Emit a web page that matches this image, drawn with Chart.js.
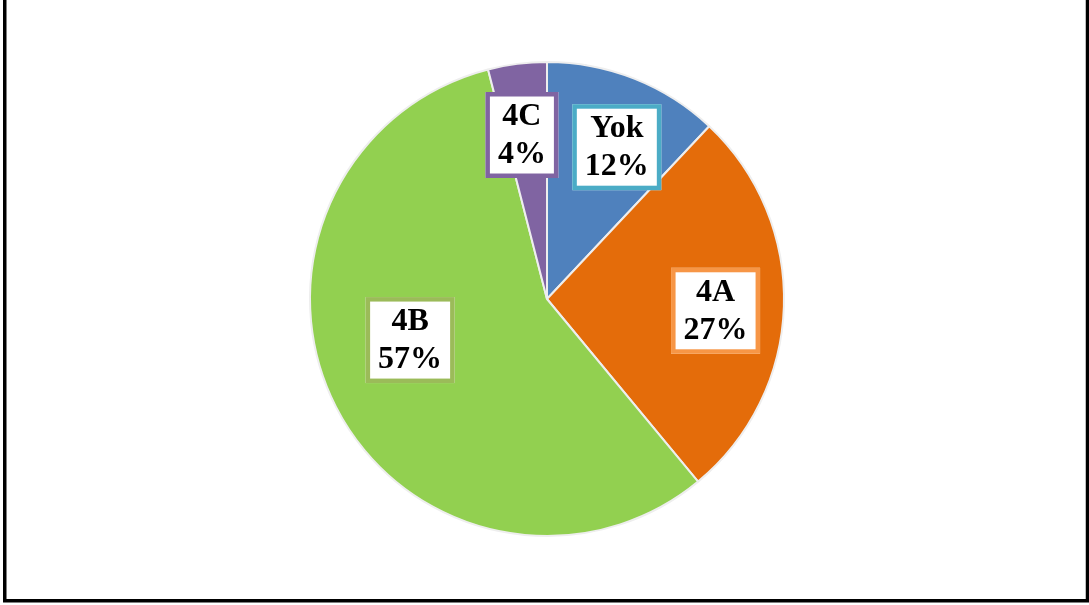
<!DOCTYPE html>
<html>
<head>
<meta charset="utf-8">
<script src="https://cdn.jsdelivr.net/npm/chart.js@4/dist/chart.umd.min.js"></script>
<style>
  html, body { margin: 0; padding: 0; background: #fff; }
  #wrap { position: relative; width: 1089px; height: 605px; }
</style>
</head>
<body>
<div id="wrap"><canvas id="pie" width="1089" height="605"></canvas></div>
<script>
// Categories and their shares (percent)
const categories = ['Yok', '4A', '4B', '4C'];
const shares = [12, 27, 57, 4];

// Slice fills and label-box outline colours
const sliceColors = ['#4F81BD', '#E46C0A', '#92D050', '#8064A2'];
const boxColors = ['#4BACC6', '#F79646', '#9BBB59', '#8064A2'];

// Label placement relative to each slice: angle shift (deg) and fraction of radius
const labelPlacement = [
  { shift: 3.1, frac: 0.705 },
  { shift: 2.2, frac: 0.713 },
  { shift: 10.3, frac: 0.603 },
  { shift: -1.5, frac: 0.70 }
];

// Frame drawn around the figure (left, right and bottom edges)
const framePlugin = {
  id: 'frame',
  afterDraw(chart) {
    const ctx = chart.ctx;
    ctx.save();
    ctx.strokeStyle = '#000';
    ctx.lineWidth = 3.5;
    ctx.beginPath();
    ctx.moveTo(4.75, 0);
    ctx.lineTo(4.75, 600.75);
    ctx.lineTo(1087.5, 600.75);
    ctx.lineTo(1087.5, 0);
    ctx.stroke();
    ctx.restore();
  }
};

// Boxed category / percent labels
const boxLabelPlugin = {
  id: 'boxLabels',
  afterDatasetsDraw(chart) {
    const ctx = chart.ctx;
    const meta = chart.getDatasetMeta(0);
    const total = shares.reduce((a, b) => a + b, 0);
    const fontSize = 32;
    const lineH = 38;
    const pad = 8;
    const bw = 4.5;
    ctx.save();
    ctx.font = 'bold ' + fontSize + 'px "Liberation Serif", "Times New Roman", serif';
    ctx.textAlign = 'center';
    ctx.textBaseline = 'middle';
    meta.data.forEach((arc, i) => {
      const p = arc.getProps(['x', 'y', 'startAngle', 'endAngle', 'outerRadius'], true);
      const mid = (p.startAngle + p.endAngle) / 2 + labelPlacement[i].shift * Math.PI / 180;
      const d = p.outerRadius * labelPlacement[i].frac;
      const cx = p.x + Math.cos(mid) * d;
      const cy = p.y + Math.sin(mid) * d;
      const lines = [categories[i], Math.round(shares[i] / total * 100) + '%'];
      const tw = Math.max(...lines.map(t => ctx.measureText(t).width));
      const w = tw + 2 * pad + 2 * bw;
      const h = lines.length * lineH + 2 * bw + 1;
      const x0 = cx - w / 2, y0 = cy - h / 2;
      ctx.fillStyle = '#ffffff';
      ctx.fillRect(x0, y0, w, h);
      ctx.strokeStyle = boxColors[i];
      ctx.lineWidth = bw;
      ctx.strokeRect(x0 + bw / 2, y0 + bw / 2, w - bw, h - bw);
      ctx.fillStyle = '#000';
      lines.forEach((t, k) => {
        ctx.fillText(t, cx, cy + (k - (lines.length - 1) / 2) * lineH + 1);
      });
    });
    ctx.restore();
  }
};

new Chart(document.getElementById('pie'), {
  type: 'pie',
  data: {
    labels: categories,
    datasets: [{
      data: shares,
      backgroundColor: sliceColors,
      borderColor: '#eeeeee',
      borderWidth: 2
    }]
  },
  options: {
    responsive: false,
    animation: false,
    layout: { padding: { top: 61, bottom: 68, left: 300, right: 295 } },
    plugins: {
      legend: { display: false },
      tooltip: { enabled: false }
    }
  },
  plugins: [boxLabelPlugin, framePlugin]
});
</script>
</body>
</html>
